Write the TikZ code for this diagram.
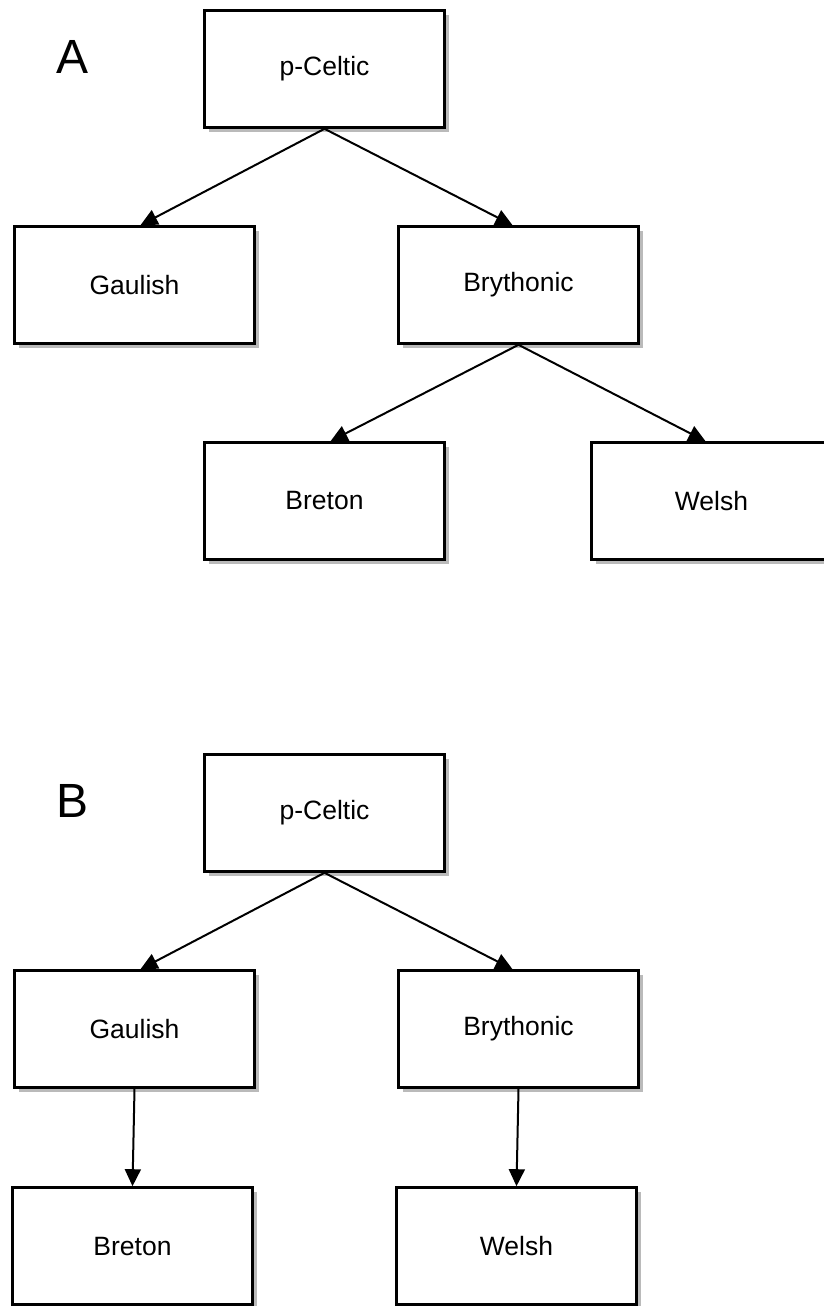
\documentclass[tikz,border=0pt]{standalone}
\usepackage{fontspec}
\setmainfont{Liberation Sans}
\usetikzlibrary{arrows.meta,shadows}
\tikzset{
  box/.style={draw=black, line width=2.6pt, fill=white, minimum width=240pt, minimum height=117pt,
    inner sep=0pt, outer sep=1.3pt, font=\fontsize{26.5}{31}\selectfont,
    drop shadow={shadow xshift=4.5pt, shadow yshift=-4.5pt, opacity=0.45, fill=black!60}},
  conn/.style={line width=2pt, -{Triangle[length=17pt,width=16pt]}},
  panel/.style={font=\fontsize{48}{56}\selectfont}
}
\begin{document}
\begin{tikzpicture}[x=1pt,y=-1pt]
\useasboundingbox[fill=white] (0,0) rectangle (823,1306);
% Panel A
\node[panel] (la) at (73,57) {A};
\node[box] (apc) at (324.5,69) {p-Celtic};
\node[box] (aga) at (134.5,285) {Gaulish};
\node[box] (abr) at (518.5,285) {Brythonic};
\node[box] (abt) at (324.5,501) {Breton};
\node[box] (awe) at (711.5,501) {Welsh};
\draw[conn] (apc.south) -- ([xshift=6pt]aga.north);
\draw[conn] (apc.south) -- ([xshift=-6pt]abr.north);
\draw[conn] (abr.south) -- ([xshift=6pt]abt.north);
\draw[conn] (abr.south) -- ([xshift=-6pt]awe.north);
% Panel B
\node[panel] (lb) at (73,801) {B};
\node[box] (bpc) at (324.5,813) {p-Celtic};
\node[box] (bga) at (134.5,1029) {Gaulish};
\node[box] (bbr) at (518.5,1029) {Brythonic};
\node[box] (bbt) at (132.5,1246) {Breton};
\node[box] (bwe) at (516.5,1246) {Welsh};
\draw[conn] (bpc.south) -- ([xshift=6pt]bga.north);
\draw[conn] (bpc.south) -- ([xshift=-6pt]bbr.north);
\draw[conn] (bga.south) -- (bbt.north);
\draw[conn] (bbr.south) -- (bwe.north);
\end{tikzpicture}
\end{document}
